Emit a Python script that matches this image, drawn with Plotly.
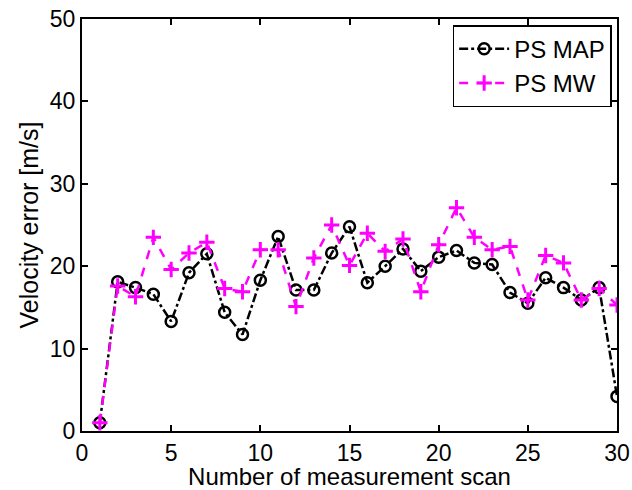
import plotly.graph_objects as go

scans = list(range(1, 31))
ps_map = [1.0, 18.1, 17.4, 16.6, 13.3, 19.2, 21.5, 14.4, 11.7, 18.3,
          23.6, 17.1, 17.1, 21.6, 24.8, 18.0, 20.0, 22.1, 19.4, 21.1,
          21.9, 20.4, 20.2, 16.8, 15.5, 18.6, 17.4, 15.9, 17.4, 4.2]
ps_mw = [1.0, 17.6, 16.3, 23.5, 19.6, 21.6, 22.9, 17.3, 16.9, 22.0,
         22.0, 15.1, 21.0, 25.0, 20.1, 24.0, 21.8, 23.3, 16.9, 22.6,
         27.1, 23.5, 22.0, 22.4, 15.9, 21.3, 20.4, 15.9, 17.3, 15.3]

FONT = "Liberation Sans, Arial, sans-serif"

fig = go.Figure()
fig.add_trace(go.Scatter(
    x=scans, y=ps_map, name="PS MAP", mode="lines+markers",
    line=dict(color="black", width=2.5, dash="dashdot"),
    marker=dict(symbol="circle-open", size=11, color="black", line=dict(width=2.5)),
))
fig.add_trace(go.Scatter(
    x=scans, y=ps_mw, name="PS MW", mode="lines+markers",
    line=dict(color="#ff00ff", width=2.5, dash="dash"),
    marker=dict(symbol="cross-thin-open", size=11, color="#ff00ff", line=dict(width=3, color="#ff00ff")),
))

axis_common = dict(
    showline=True, linecolor="black", linewidth=2, mirror="ticks",
    ticks="inside", ticklen=6, tickwidth=1.5, tickcolor="black",
    showgrid=False, zeroline=False, automargin=False,
    ticklabeloverflow="allow",
    tickfont=dict(family=FONT, size=23, color="black"),
)
fig.update_layout(
    width=632, height=490,
    margin=dict(l=82, r=15, t=19, b=59),
    paper_bgcolor="white", plot_bgcolor="white",
    font=dict(family=FONT, size=23, color="black"),
    xaxis=dict(range=[0, 30], tickvals=[0, 5, 10, 15, 20, 25, 30],
               title=dict(text="Number of measurement scan", standoff=0,
                          font=dict(size=24)), **axis_common),
    yaxis=dict(range=[0, 50], tickvals=[0, 10, 20, 30, 40, 50],
               title=dict(text="Velocity error [m/s]", standoff=4,
                          font=dict(size=25)), **axis_common),
    legend=dict(x=0.99, y=0.985, xanchor="right", yanchor="top",
                bordercolor="black", borderwidth=1.5, bgcolor="white",
                font=dict(size=24), tracegroupgap=0, itemwidth=50),
    showlegend=True,
)

fig.write_html("out.html", config={"displayModeBar": False},
               post_script="document.body.style.margin='0px';document.body.style.padding='0px';")
